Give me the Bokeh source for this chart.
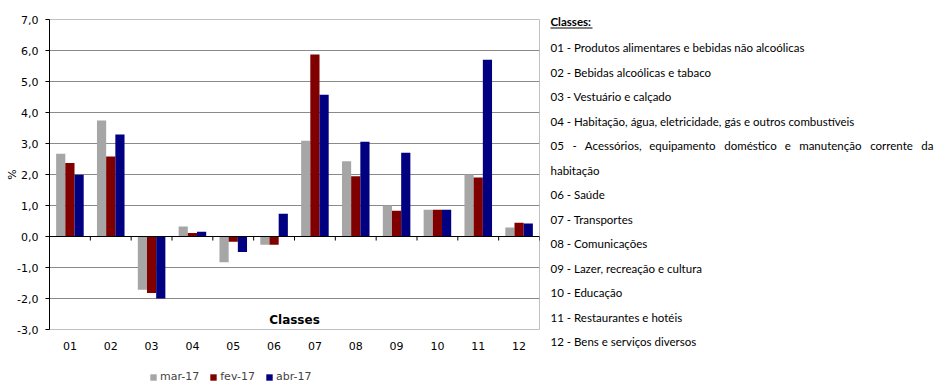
import numpy as np
from bokeh.plotting import figure
from bokeh.layouts import row, column
from bokeh.models import (ColumnDataSource, Label, Legend, LegendItem, FixedTicker,
                          Span, Range1d)
from bokeh.core.properties import value
from bokeh.embed import file_html
from bokeh.resources import INLINE

# ---------------- data ----------------
codes = ["01", "02", "03", "04", "05", "06", "07", "08", "09", "10", "11", "12"]
series_names = ["mar-17", "fev-17", "abr-17"]
mar17 = [2.67, 3.74, -1.72, 0.32, -0.83, -0.27, 3.09, 2.43, 1.00, 0.86, 2.00, 0.29]
fev17 = [2.37, 2.58, -1.82, 0.11, -0.17, -0.27, 5.87, 1.94, 0.83, 0.86, 1.90, 0.44]
abr17 = [1.99, 3.29, -2.00, 0.15, -0.50, 0.73, 4.57, 3.06, 2.70, 0.86, 5.70, 0.42]
series_colors = ["#A6A6A6", "#800000", "#000080"]

y_ticks = [-3, -2, -1, 0, 1, 2, 3, 4, 5, 6, 7]
y_tick_labels = ["-3,0", "-2,0", "-1,0", "0,0", "1,0", "2,0", "3,0", "4,0", "5,0", "6,0", "7,0"]

class_names = [
    "Produtos alimentares e bebidas não alcoólicas",
    "Bebidas alcoólicas e tabaco",
    "Vestuário e calçado",
    "Habitação, água,  eletricidade,  gás e outros combustíveis",
    "Acessórios, equipamento doméstico e manutenção corrente da habitação",
    "Saúde",
    "Transportes",
    "Comunicações",
    "Lazer, recreação e cultura",
    "Educação",
    "Restaurantes e hotéis",
    "Bens e serviços diversos",
]

# ---------------- main chart ----------------
FL, FT, FW, FH = 49, 19, 490, 310          # frame left/top/width/height in canvas px
W, H = 935, 386
PH = 362                                   # chart height; legend strip below
PW = FL + FW + 1
AX_FONT = "DejaVu Sans"
TXT_FONT = value("Lato")
TXT_PX = 11.5
TXT_SIZE = value(f"{TXT_PX}px")

p = figure(width=PW, height=PH, x_range=(-0.5, 11.5), y_range=(-3, 7),
           output_backend="svg", toolbar_location=None,
           min_border_left=FL, min_border_right=PW - FL - FW,
           min_border_top=FT, min_border_bottom=PH - FT - FH)
p.background_fill_color = "white"
p.border_fill_color = "white"
p.outline_line_color = "#C0C0C0"

idx = np.arange(len(codes))
bw = 0.225
for k, (vals, col) in enumerate(zip([mar17, fev17, abr17], series_colors)):
    src = ColumnDataSource(dict(x=idx + (k - 1) * bw, top=vals))
    p.vbar(x="x", top="top", bottom=0, width=bw, source=src,
           fill_color=col, line_color=None)

# grid
p.xgrid.visible = False
p.ygrid.ticker = FixedTicker(ticks=y_ticks[1:-1])
p.ygrid.grid_line_color = "#8A8A8A"
p.ygrid.grid_line_width = 1

# y axis
p.yaxis.ticker = FixedTicker(ticks=y_ticks)
p.yaxis.major_label_overrides = {t: l for t, l in zip(y_ticks, y_tick_labels)}
p.yaxis.minor_tick_line_color = None
p.yaxis.major_tick_in = 0
p.yaxis.major_tick_out = 4
p.yaxis.major_label_standoff = 7
p.yaxis.axis_line_color = "black"
p.yaxis.major_tick_line_color = "black"
p.yaxis.major_label_text_font = AX_FONT
p.yaxis.major_label_text_font_size = "11px"
p.yaxis.major_label_text_color = "black"
p.yaxis.axis_label = "%"
p.yaxis.axis_label_standoff = -5
p.yaxis.axis_label_text_font = AX_FONT
p.yaxis.axis_label_text_font_size = "11px"
p.yaxis.axis_label_text_font_style = "normal"
p.yaxis.axis_label_text_color = "black"

# x axis (labels only; zero line + boundary ticks drawn separately)
p.xaxis.ticker = FixedTicker(ticks=list(idx))
p.xaxis.major_label_overrides = {int(i): c for i, c in zip(idx, codes)}
p.xaxis.axis_line_color = None
p.xaxis.major_tick_line_color = None
p.xaxis.minor_tick_line_color = None
p.xaxis.major_label_standoff = 6
p.xaxis.major_label_text_font = AX_FONT
p.xaxis.major_label_text_font_size = "11px"
p.xaxis.major_label_text_color = "black"

p.add_layout(Span(location=0, dimension="width", line_color="black", line_width=1))
bounds = idx + 0.5
p.segment(x0=bounds, y0=np.zeros(len(bounds)), x1=bounds,
          y1=np.full(len(bounds), -0.13), line_color="black", line_width=1)

p.add_layout(Label(x=5.5, y=-3, text="Classes", text_align="center",
                   text_baseline="bottom", y_offset=3,
                   text_font=AX_FONT, text_font_style="bold",
                   text_font_size="12px", text_color="black"))

# ---------------- legend strip ----------------
LH = H - PH
lg = figure(width=PW, height=LH, x_range=(0, 1), y_range=(0, 1),
            output_backend="svg", toolbar_location=None,
            x_axis_type=None, y_axis_type=None, min_border=0,
            min_border_left=0, min_border_right=0, min_border_top=0, min_border_bottom=0)
lg.grid.visible = False
lg.outline_line_color = None
lg.border_fill_color = "white"
items = []
for n, col in zip(series_names, series_colors):
    # proxy glyph kept outside the visible range; only its legend swatch shows
    r = lg.vbar(x=[5], top=[0], bottom=0, width=0.1, fill_color=col, line_color=None)
    items.append(LegendItem(label=n, renderers=[r]))
legend = Legend(items=items, orientation="horizontal", location=(100, 3),
                glyph_width=8, glyph_height=8, label_standoff=3, spacing=10,
                padding=0, margin=0, border_line_color=None,
                background_fill_alpha=0, label_text_font=AX_FONT,
                label_text_font_size="11px", label_height=12)
lg.add_layout(legend, "center")

# ---------------- class list (right panel) ----------------
RW = W - PW
q = figure(width=RW, height=H, x_range=Range1d(0, RW), y_range=Range1d(H, 0),
           output_backend="svg", toolbar_location=None,
           x_axis_type=None, y_axis_type=None,
           min_border=0, min_border_left=0, min_border_right=0,
           min_border_top=0, min_border_bottom=0)
q.grid.visible = False
q.outline_line_color = None
q.background_fill_color = "white"
q.border_fill_color = "white"

tx = 550 - PW
tr = 933 - PW          # right margin of the justified text block
q.text(x=[tx], y=[21], text=["Classes:"], text_baseline="middle",
       text_font=TXT_FONT, text_font_style="bold", text_font_size=TXT_SIZE,
       text_color="black")
q.segment(x0=[tx], y0=[27.5], x1=[tx + 42], y1=[27.5], line_color="black", line_width=1)

# build lines; very long entries wrap (first line justified)
plain, just = [], []
j = 0
for c, n in zip(codes, class_names):
    full = f"{c} - {n}"
    y = 47 + j * 24.5
    if len(full) > 66:
        head, tail = full.rsplit(" ", 1)
        just.append((head, y))
        plain.append((tail, y + 24.5))
        j += 2
    else:
        plain.append((full, y))
        j += 1

q.text(x=[tx] * len(plain), y=[y for _, y in plain], text=[t for t, _ in plain],
       text_baseline="middle", text_font=TXT_FONT, text_font_size=TXT_SIZE,
       text_color="black")

# approximate Lato advance widths (em) to spread the justified words
EM = {"a": .51, "b": .56, "c": .46, "d": .56, "e": .52, "f": .32, "g": .50,
      "h": .56, "i": .24, "j": .24, "k": .49, "l": .24, "m": .84, "n": .56,
      "o": .56, "p": .56, "q": .56, "r": .36, "s": .42, "t": .35, "u": .56,
      "v": .50, "x": .49, "z": .45, ",": .22, "-": .34, "A": .67}
def word_w(w):
    total = 0.0
    for ch in w:
        base = {"ó": "o", "é": "e", "ç": "c", "ã": "a", "á": "a", "ú": "u"}.get(ch, ch)
        total += EM.get(base, .58 if base.isdigit() else .52)
    return total * TXT_PX

for head, y in just:
    words = head.split(" ")
    est = [word_w(w) for w in words]
    gap = (tr - tx - sum(est)) / (len(words) - 1)
    xs, cur = [], tx
    for e in est:
        xs.append(cur)
        cur += e + gap
    q.text(x=xs[:-1], y=[y] * (len(words) - 1), text=words[:-1],
           text_baseline="middle", text_font=TXT_FONT, text_font_size=TXT_SIZE,
           text_color="black")
    q.text(x=[tr], y=[y], text=[words[-1]], text_align="right",
           text_baseline="middle", text_font=TXT_FONT, text_font_size=TXT_SIZE,
           text_color="black")

layout = row(column(p, lg, spacing=0), q, spacing=0)
open("out.html", "w").write(file_html(layout, INLINE))
